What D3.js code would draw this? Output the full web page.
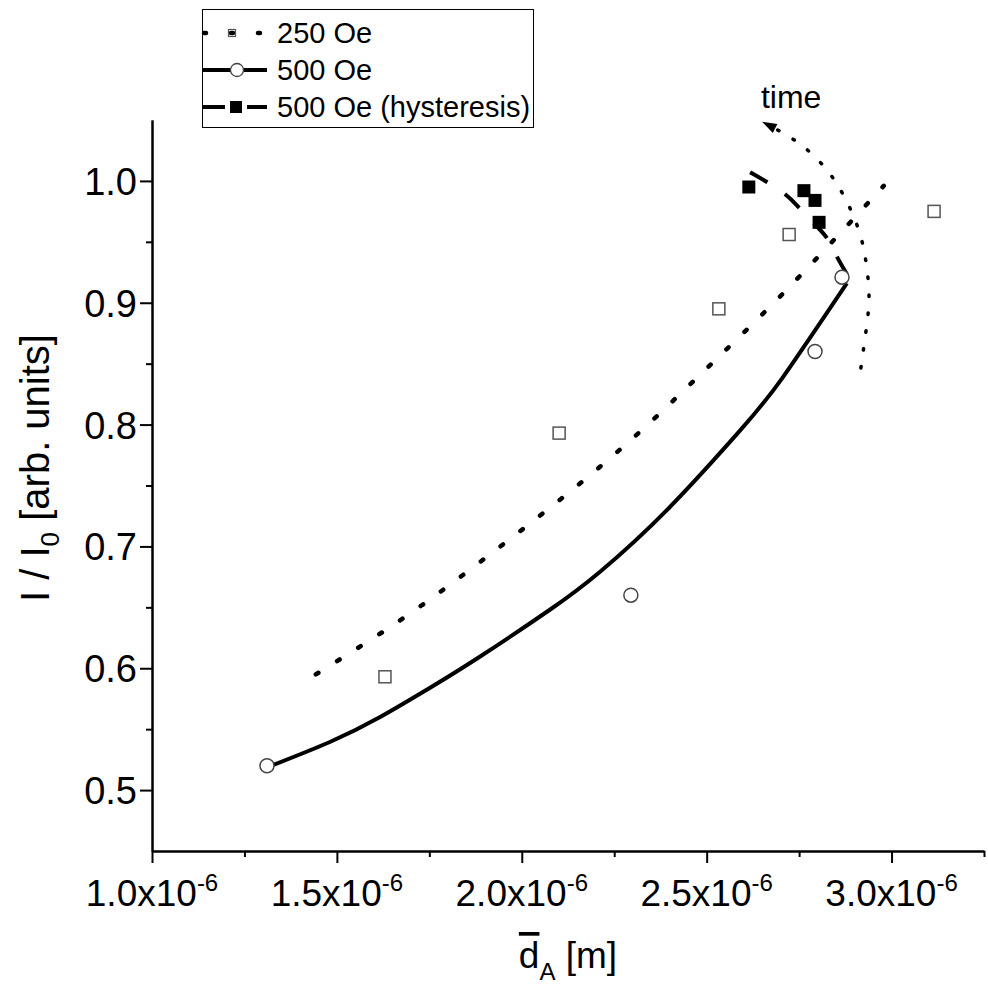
<!DOCTYPE html>
<html>
<head>
<meta charset="utf-8">
<script src="https://cdn.jsdelivr.net/npm/d3@7"></script>
<style>
  body { margin: 0; background: #fff; }
  svg { display: block; font-family: "Liberation Sans", Arial, sans-serif; }
</style>
</head>
<body>
<svg id="chart" width="988" height="993"></svg>
<script>
// measured points (x in m, y in arb. units)
let sq250_x = [1.630e-6, 2.101e-6, 2.533e-6, 2.723e-6, 3.115e-6]
let sq250_y = [0.593, 0.793, 0.895, 0.956, 0.975]

let circ500_x = [1.311e-6, 2.295e-6, 2.793e-6, 2.866e-6]
let circ500_y = [0.520, 0.660, 0.860, 0.921]

let hyst_x = [2.614e-6, 2.763e-6, 2.793e-6, 2.804e-6]
let hyst_y = [0.995, 0.992, 0.984, 0.966]

// fit curves
let fit250_x = [1.443e-6, 1.679e-6, 1.895e-6, 2.106e-6, 2.312e-6, 2.503e-6, 2.698e-6, 2.882e-6, 2.979e-6]
let fit250_y = [0.595, 0.641, 0.689, 0.739, 0.792, 0.847, 0.905, 0.964, 0.996]

let fit500_x = [1.314e-6, 1.481e-6, 1.617e-6, 1.752e-6, 1.879e-6, 2.076e-6, 2.211e-6, 2.393e-6, 2.590e-6, 2.704e-6, 2.879e-6]
let fit500_y = [0.519, 0.5395, 0.560, 0.584, 0.608, 0.648, 0.679, 0.730, 0.795, 0.838, 0.916]

let fitHyst_x = [2.879e-6, 2.852e-6, 2.823e-6, 2.787e-6, 2.744e-6, 2.704e-6, 2.658e-6, 2.612e-6]
let fitHyst_y = [0.9236, 0.938, 0.954, 0.966, 0.980, 0.991, 1.000, 1.008]

// "time" arrow
let time_x = [2.917e-6, 2.931e-6, 2.939e-6, 2.931e-6, 2.912e-6, 2.874e-6, 2.825e-6, 2.758e-6, 2.685e-6]
let time_y = [0.8465, 0.877, 0.905, 0.933, 0.959, 0.986, 1.009, 1.029, 1.043]
let time_tip = [2.650e-6, 1.0485]

let xMajor = [1.0e-6, 1.5e-6, 2.0e-6, 2.5e-6, 3.0e-6]
let xMinor = [1.25e-6, 1.75e-6, 2.25e-6, 2.75e-6, 3.25e-6]
let xLabels = ["1.0", "1.5", "2.0", "2.5", "3.0"]
let yMajor = [0.5, 0.6, 0.7, 0.8, 0.9, 1.0]
let yMinor = [0.55, 0.65, 0.75, 0.85, 0.95]

let legend_names = ["250 Oe", "500 Oe", "500 Oe (hysteresis)"]

let zip = (xs, ys) => xs.map((v, i) => [v, ys[i]])

let svg = d3.select('#chart')
let x = d3.scaleLinear().domain([1.0e-6, 3.25e-6]).range([152, 984])
let y = d3.scaleLinear().domain([0.45, 1.05]).range([851, 120])

let line = d3.line().x((d) => x(d[0])).y((d) => y(d[1])).curve(d3.curveNatural)

// axes
function styleAxis(g) {
    g.selectAll('path, line').attr('stroke', '#000').attr('stroke-width', 2)
    g.selectAll('text').remove()
}

svg.append('g').attr('transform', 'translate(0,851)')
    .call(d3.axisBottom(x).tickValues(xMinor).tickSize(6).tickSizeOuter(0))
    .call(styleAxis)
svg.append('g').attr('transform', 'translate(0,851)')
    .call(d3.axisBottom(x).tickValues(xMajor).tickSize(12).tickSizeOuter(0))
    .call(styleAxis)
svg.append('g').attr('transform', 'translate(152,0)')
    .call(d3.axisLeft(y).tickValues(yMinor).tickSize(6).tickSizeOuter(0))
    .call(styleAxis)
svg.append('g').attr('transform', 'translate(152,0)')
    .call(d3.axisLeft(y).tickValues(yMajor).tickSize(12).tickSizeOuter(0))
    .call(styleAxis)

// tick labels
let xt = svg.append('g').selectAll('text').data(xMajor).join('text')
    .attr('x', (d) => x(d)).attr('y', 906)
    .attr('text-anchor', 'middle').attr('font-size', 37)
xt.append('tspan').text((d, i) => xLabels[i] + 'x10')
xt.append('tspan').attr('font-size', 24).attr('dy', -15).text('-6')

svg.append('g').selectAll('text').data(yMajor).join('text')
    .attr('x', 137).attr('y', (d) => y(d) + 14)
    .attr('text-anchor', 'end').attr('font-size', 38)
    .text((d) => d.toFixed(1))

// axis titles
let xTitle = svg.append('text').attr('x', 568).attr('y', 968)
    .attr('text-anchor', 'middle').attr('font-size', 37)
xTitle.append('tspan').attr('text-decoration', 'overline').text('d')
xTitle.append('tspan').attr('font-size', 24).attr('dy', 12).text('A')
xTitle.append('tspan').attr('dy', -12).text(' [m]')

let yTitle = svg.append('text').attr('transform', 'translate(49,468) rotate(-90)')
    .attr('text-anchor', 'middle').attr('font-size', 40)
yTitle.append('tspan').text('I / I')
yTitle.append('tspan').attr('font-size', 26).attr('dy', 10).text('0')
yTitle.append('tspan').attr('dy', -10).text(' [arb. units]')

// fit curves
svg.append('path').datum(zip(fit250_x, fit250_y)).attr('d', line)
    .attr('fill', 'none').attr('stroke', '#000').attr('stroke-width', 4.5)
    .attr('stroke-linecap', 'round').attr('stroke-dasharray', '3,22')
svg.append('path').datum(zip(fit500_x, fit500_y)).attr('d', line)
    .attr('fill', 'none').attr('stroke', '#000').attr('stroke-width', 4)
svg.append('path').datum(zip(fitHyst_x, fitHyst_y)).attr('d', line)
    .attr('fill', 'none').attr('stroke', '#000').attr('stroke-width', 4)
    .attr('stroke-dasharray', '20,21')

// time arrow
let tpts = zip(time_x, time_y)
svg.append('path').datum(tpts).attr('d', line)
    .attr('fill', 'none').attr('stroke', '#000').attr('stroke-width', 3.5)
    .attr('stroke-linecap', 'round').attr('stroke-dasharray', '1.5,16.5')
{
    let last = tpts[tpts.length - 1]
    let bx = x(last[0]), by = y(last[1])
    let tx = x(time_tip[0]), ty = y(time_tip[1])
    let dx = tx - bx, dy = ty - by
    let len = Math.sqrt(dx * dx + dy * dy)
    let nx = -dy / len * 5, ny = dx / len * 5
    svg.append('polygon')
        .attr('points', `${tx},${ty} ${bx + nx},${by + ny} ${bx - nx},${by - ny}`)
        .attr('fill', '#000')
}
svg.append('text').attr('x', x(time_tip[0]) + 29).attr('y', 108)
    .attr('text-anchor', 'middle').attr('font-size', 32).text('time')

// markers
svg.append('g').selectAll('rect').data(zip(sq250_x, sq250_y)).join('rect')
    .attr('x', (d) => x(d[0]) - 6).attr('y', (d) => y(d[1]) - 6)
    .attr('width', 12).attr('height', 12)
    .attr('fill', '#fff').attr('stroke', '#555').attr('stroke-width', 1.5)
svg.append('g').selectAll('circle').data(zip(circ500_x, circ500_y)).join('circle')
    .attr('cx', (d) => x(d[0])).attr('cy', (d) => y(d[1])).attr('r', 7)
    .attr('fill', '#fff').attr('stroke', '#444').attr('stroke-width', 1.5)
svg.append('g').selectAll('rect').data(zip(hyst_x, hyst_y)).join('rect')
    .attr('x', (d) => x(d[0]) - 6.5).attr('y', (d) => y(d[1]) - 6.5)
    .attr('width', 13).attr('height', 13).attr('fill', '#000')

// legend
let lg = svg.append('g')
lg.append('rect').attr('x', 202.5).attr('y', 9.5).attr('width', 331).attr('height', 118)
    .attr('fill', '#fff').attr('stroke', '#000').attr('stroke-width', 1)
let rows = [33, 70, 107]
lg.append('line').attr('x1', 204).attr('x2', 264).attr('y1', rows[0]).attr('y2', rows[0])
    .attr('stroke', '#000').attr('stroke-width', 4.5).attr('stroke-linecap', 'round')
    .attr('stroke-dasharray', '2,25')
lg.append('rect').attr('x', 228.5).attr('y', rows[0] - 3.5).attr('width', 7).attr('height', 7)
    .attr('fill', 'none').attr('stroke', '#555').attr('stroke-width', 1.2)
lg.append('line').attr('x1', 202).attr('x2', 267).attr('y1', rows[1]).attr('y2', rows[1])
    .attr('stroke', '#000').attr('stroke-width', 4)
lg.append('circle').attr('cx', 237).attr('cy', rows[1]).attr('r', 6.5)
    .attr('fill', '#fff').attr('stroke', '#444').attr('stroke-width', 1.3)
lg.append('line').attr('x1', 202).attr('x2', 267).attr('y1', rows[2]).attr('y2', rows[2])
    .attr('stroke', '#000').attr('stroke-width', 4).attr('stroke-dasharray', '23,22,20')
lg.append('rect').attr('x', 230).attr('y', rows[2] - 6).attr('width', 12).attr('height', 12)
    .attr('fill', '#000')
lg.selectAll('text.lab').data(legend_names).join('text').attr('class', 'lab')
    .attr('x', 277).attr('y', (d, i) => rows[i] + 10).attr('font-size', 29).text((d) => d)
</script>
</body>
</html>
